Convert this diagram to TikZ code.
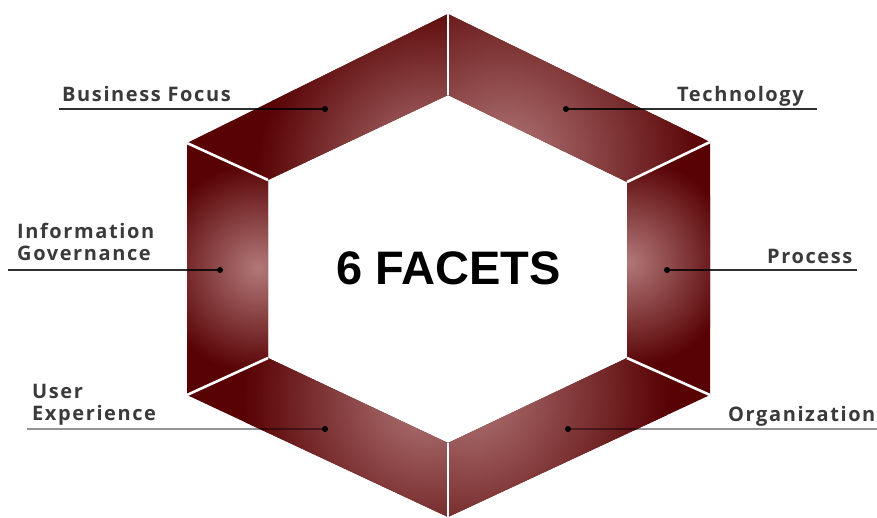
\documentclass[tikz,border=0pt]{standalone}
\usepackage{fontspec}
\setmainfont{Open Sans}
\newfontfamily\labelfont[LetterSpace=8]{Open Sans}
\newfontfamily\titlefont{Liberation Sans}
\definecolor{panelDark}{RGB}{88,2,4}
\definecolor{panelLight}{RGB}{178,120,120}
\definecolor{labelGray}{RGB}{58,58,58}
\tikzset{
  lbl/.style={font=\labelfont\bfseries\fontsize{20}{22}\selectfont, text=labelGray, inner sep=0pt, align=left},
  dotmark/.style={circle, fill=black, inner sep=0pt, minimum size=6pt},
  ulineDark/.style={line width=1.8pt, draw=black, draw opacity=0.82},
  ulineLight/.style={line width=1.8pt, draw=black, draw opacity=0.42},
  sep/.style={draw=white, line width=2.6pt},
  glow/.style={inner color=panelLight, outer color=panelDark}
}
\begin{document}
\begin{tikzpicture}[x=1pt,y=-1pt]
\useasboundingbox[fill=white] (0,0) rectangle (877,518);
% outer hexagon
\coordinate (OT)  at (448,14);
\coordinate (OUR) at (710,142);
\coordinate (OLR) at (710,395);
\coordinate (OB)  at (448,517);
\coordinate (OLL) at (187,395);
\coordinate (OUL) at (187,143);
% inner hexagon
\coordinate (IT)  at (448,95);
\coordinate (IUR) at (627,182);
\coordinate (ILR) at (627,358);
\coordinate (IB)  at (448,443);
\coordinate (ILL) at (268,358);
\coordinate (IUL) at (268,180);

% top-left panel
\begin{scope}
\clip (OUL) -- (OT) -- (IT) -- (IUL) -- cycle;
\fill[panelDark] (0,0) rectangle (877,518);
\shade[glow] (432,172) circle (175pt);
\end{scope}
% top-right panel
\begin{scope}
\clip (OT) -- (OUR) -- (IUR) -- (IT) -- cycle;
\fill[panelDark] (0,0) rectangle (877,518);
\shade[glow] (505,160) circle (200pt);
\end{scope}
% right panel
\begin{scope}
\clip (OUR) -- (OLR) -- (ILR) -- (IUR) -- cycle;
\fill[panelDark] (0,0) rectangle (877,518);
\shade[glow] (628,262) circle (105pt);
\end{scope}
% left panel
\begin{scope}
\clip (OUL) -- (IUL) -- (ILL) -- (OLL) -- cycle;
\fill[panelDark] (0,0) rectangle (877,518);
\shade[glow] (258,268) circle (105pt);
\end{scope}
% bottom-left panel
\begin{scope}
\clip (OLL) -- (ILL) -- (IB) -- (OB) -- cycle;
\fill[panelDark] (0,0) rectangle (877,518);
\shade[glow] (428,398) circle (185pt);
\end{scope}
% bottom-right panel
\begin{scope}
\clip (OB) -- (IB) -- (ILR) -- (OLR) -- cycle;
\fill[panelDark] (0,0) rectangle (877,518);
\shade[glow] (468,392) circle (200pt);
\end{scope}

% separators
\draw[sep] (OT) -- (IT);
\draw[sep] (OUR) -- (IUR);
\draw[sep] (OLR) -- (ILR);
\draw[sep] (OB) -- (IB);
\draw[sep] (OLL) -- (ILL);
\draw[sep] (OUL) -- (IUL);

% title
\node[font=\titlefont\bfseries\fontsize{47}{50}\selectfont, inner sep=0pt] (title) at (448.5,268.5) {6 FACETS};

% labels
\node[lbl, anchor=base west] (bf) at (62,102) {Business Focus};
\node[lbl, anchor=base west] (tech) at (677,102) {Technology};
\node[lbl, anchor=base west] (info) at (17,239) {Information};
\node[lbl, anchor=base west] (gov) at (17,261) {Governance};
\node[lbl, anchor=base west] (proc) at (767,264) {Process};
\node[lbl, anchor=base west] (user) at (32,398) {User};
\node[lbl, anchor=base west] (exp) at (32,420) {Experience};
\node[lbl, anchor=base west] (org) at (728,421) {Organization};

% leader lines
\node[dotmark] (bfDot) at (325,109) {};
\coordinate (bfEnd) at (59,109);
\draw[ulineDark] (bfDot.center) -- (bfEnd);

\node[dotmark] (techDot) at (566,109) {};
\coordinate (techEnd) at (817,109);
\draw[ulineDark] (techDot.center) -- (techEnd);

\node[dotmark] (infoDot) at (220,270) {};
\coordinate (infoEnd) at (8,270);
\draw[ulineDark] (infoDot.center) -- (infoEnd);

\node[dotmark] (procDot) at (667,270) {};
\coordinate (procEnd) at (857,270);
\draw[ulineDark] (procDot.center) -- (procEnd);

\node[dotmark] (uxDot) at (325,429) {};
\coordinate (uxEnd) at (27,429);
\draw[ulineLight] (uxDot.center) -- (uxEnd);

\node[dotmark] (orgDot) at (568,429) {};
\coordinate (orgEnd) at (877,429);
\draw[ulineLight] (orgDot.center) -- (orgEnd);
\end{tikzpicture}
\end{document}
